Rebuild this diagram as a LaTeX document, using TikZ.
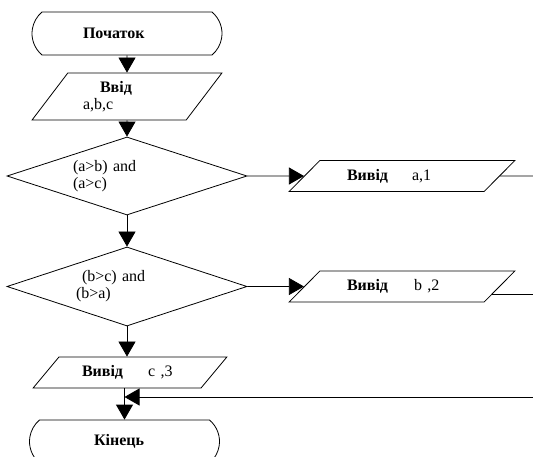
\documentclass[tikz,border=0pt]{standalone}
\usepackage{fontspec}
\setmainfont{Liberation Serif}
\usetikzlibrary{arrows.meta,positioning,shapes.geometric,shapes.misc,calc}

\begin{document}
\begin{tikzpicture}[x=1pt, y=-1pt, line width=0.8pt,
    every node/.style={font=\fontsize{16}{17}\selectfont, inner sep=0pt},
    term/.style={draw, rounded rectangle, rounded rectangle arc length=100, minimum width=190pt, minimum height=43pt, align=left},
    iobox/.style={draw, trapezium, trapezium stretches=true, align=left},
    outbox/.style={iobox, trapezium left angle=34, trapezium right angle=146, minimum width=226pt, minimum height=31pt, text width=110pt},
    cond/.style={draw, diamond, aspect=3.08, minimum width=240pt, minimum height=78pt, align=left},
    arr/.style={-{Triangle[length=15pt,width=17pt]}}]
    \useasboundingbox[fill=white] (0,0) rectangle (533,457);
    % main column
    \node[term, text width=88pt] (start) at (127,33.5) {\textbf{Початок}};
    \node[iobox, trapezium left angle=49, trapezium right angle=131, minimum width=190pt, minimum height=47pt, text width=88pt] (input) at (127,96.5) {\hspace*{17pt}\textbf{Ввід}\\a,b,c};
    \node[cond, text width=108pt] (ab) at (127,176) {(a>b) and\\(a>c)};
    \node[cond, text width=102pt, minimum height=79pt] (bc) at (127,286.5) {\hspace*{6pt}(b>c) and\\(b>a)};
    \node[iobox, trapezium left angle=38.5, trapezium right angle=141.5, minimum width=194pt, minimum height=31pt, text width=96pt] (outc) at (130,372.5) {\textbf{Вивід}\hspace{25pt}c ,3};
    \node[term, text width=61pt] (stop) at (124.5,441.5) {\textbf{Кінець}};
    % outputs on the right
    \node[outbox] (outa) at (402,176) {\textbf{Вивід}\hspace{24pt}a,1};
    \node[outbox] (outb) at (402,286.5) {\textbf{Вивід}\hspace{26pt}b ,2};
    \coordinate (enda) at (533,176);
    \coordinate (endb) at (533,294);
    \coordinate (back) at (533,397);
    \coordinate (outbtail) at ($(outb.top right corner)!0.74!(outb.bottom right corner)$);

    \draw[arr] (start) -- (input);
    \draw[arr] (input) -- (ab);
    \draw[arr] (ab.east) -- (outa.west);
    \draw (outa.east) -- (enda);
    \draw[arr] (ab) -- (bc);
    \draw[arr] (bc.east) -- (outb.west);
    \draw (outbtail) -- (outbtail -| endb);
    \draw[arr] (bc.south) -- (bc.south |- outc.north);
    \draw[arr] (stop.north |- outc.south) -- (stop.north);
    \draw[arr] (back) -- (back -| stop.north);
\end{tikzpicture}
\end{document}
